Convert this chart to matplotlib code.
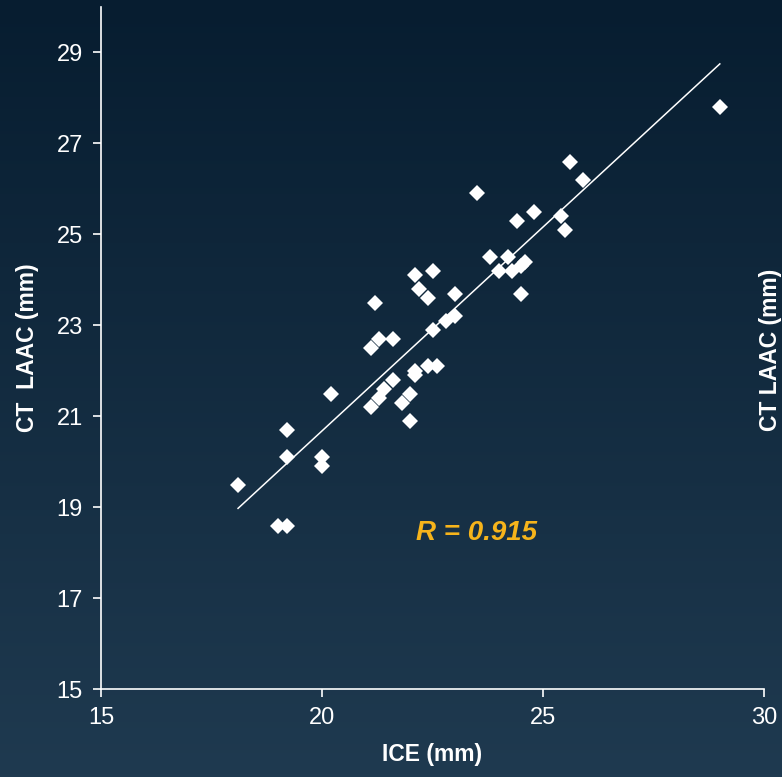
import numpy as np
import matplotlib.pyplot as plt
import matplotlib.colors as mcolors

ice = [18.1, 19.0, 19.2, 19.2, 19.2, 20.0, 20.0, 20.2, 21.1, 21.3,
       21.4, 21.6, 21.8, 22.0, 22.0, 22.1, 22.1, 22.4, 22.6, 21.1,
       21.3, 21.6, 21.2, 22.1, 22.5, 22.2, 22.4, 23.0, 22.5, 22.8,
       23.0, 23.5, 23.8, 24.0, 24.2, 24.3, 24.5, 24.6, 24.5, 24.4,
       24.8, 25.4, 25.5, 25.6, 25.9, 29.0]
ct_laac = [19.5, 18.6, 18.6, 20.7, 20.1, 20.1, 19.9, 21.5, 21.2, 21.4,
           21.6, 21.8, 21.3, 21.5, 20.9, 21.9, 22.0, 22.1, 22.1, 22.5,
           22.7, 22.7, 23.5, 24.1, 24.2, 23.8, 23.6, 23.7, 22.9, 23.1,
           23.2, 25.9, 24.5, 24.2, 24.5, 24.2, 24.3, 24.4, 23.7, 25.3,
           25.5, 25.4, 25.1, 26.6, 26.2, 27.8]
r_label = 'R = 0.915'
x_ticks = [15, 20, 25, 30]
y_ticks = [15, 17, 19, 21, 23, 25, 27, 29]

plt.rcParams['font.family'] = ['Liberation Sans', 'DejaVu Sans']

fig = plt.figure(figsize=(7.82, 7.77), dpi=100)

# dark navy gradient background
bg = fig.add_axes([0, 0, 1, 1])
cmap = mcolors.LinearSegmentedColormap.from_list('bg', ['#071d30', '#1f3a50'])
bg.imshow(np.linspace(0, 1, 256).reshape(-1, 1), aspect='auto', cmap=cmap,
          extent=[0, 1, 0, 1], origin='upper')
bg.axis('off')

ax = fig.add_axes([0.1292, 0.1129, 0.8478, 0.8781])
ax.patch.set_alpha(0)

ax.plot(ice, ct_laac, 'D', color='white', markersize=8.5, markeredgewidth=0, zorder=3)

coef = np.polyfit(ice, ct_laac, 1)
xs = np.array([min(ice), max(ice)])
ax.plot(xs, np.polyval(coef, xs), color='white', lw=1.1, zorder=2)

ax.text(23.5, 18.43, r_label, color='#F6B41B', fontsize=20, fontweight='bold',
        fontstyle='italic', ha='center', va='center')

ax.set_xlim(15, 30)
ax.set_ylim(15, 30)
ax.set_xticks(x_ticks)
ax.set_yticks(y_ticks)
for s in ['top', 'right']:
    ax.spines[s].set_visible(False)
for s in ['left', 'bottom']:
    ax.spines[s].set_color('white')
    ax.spines[s].set_linewidth(1.2)
ax.tick_params(colors='white', labelsize=17, length=6, width=1.2, pad=7)

ax.set_xlabel('ICE (mm)', color='white', fontsize=16.5, fontweight='bold', labelpad=10)
fig.text(28 / 782, 1 - 348 / 777, 'CT  LAAC (mm)', color='white', fontsize=16.5,
         fontweight='bold', rotation=90, ha='center', va='center')
# label of the neighbouring panel, at the right edge
fig.text(771 / 782, 1 - 350 / 777, 'CT LAAC (mm)', color='white', fontsize=16.5,
         fontweight='bold', rotation=90, ha='center', va='center')

plt.savefig('out.png', dpi=100)
